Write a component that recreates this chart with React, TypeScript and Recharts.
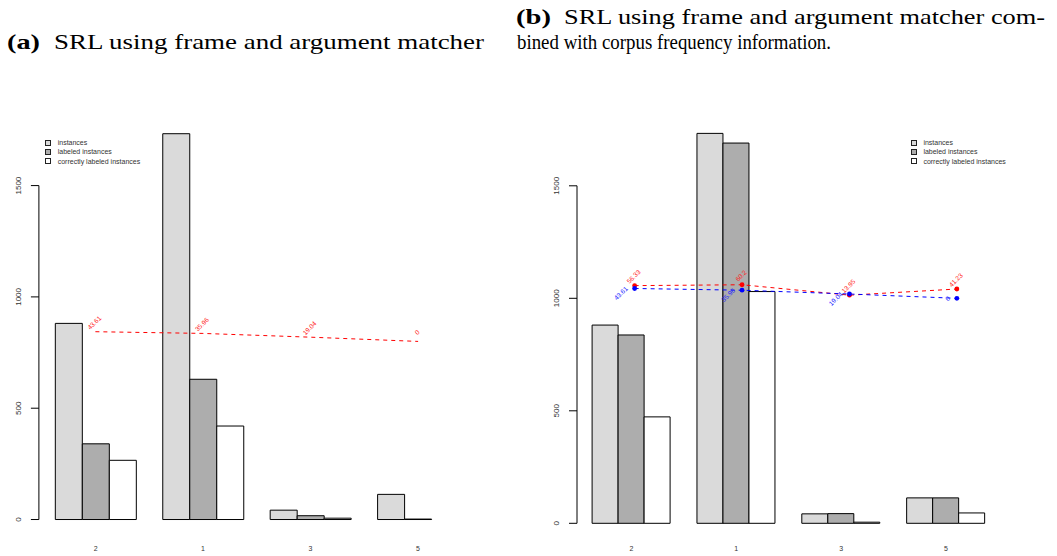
import {
  Bar,
  ComposedChart,
  Legend,
  Line,
  ReferenceLine,
  XAxis,
  YAxis
} from "recharts";

const categories = ["2", "1", "3", "5"];
const seriesNames = ["instances", "labeled instances", "correctly labeled instances"];
const instances = [881, 1733, 42, 113];
const yTicks = [0, 500, 1000, 1500];

// (a) frame and argument matcher
const labeledA = [340, 630, 17, 2];
const correctA = [266, 420, 6, 0];
const accA = [843.61, 835.96, 819.04, 800];
const accLabelsA = ["43.61", "35.96", "19.04", "0"];
const pointXA = [2.5, 6.5, 10.5, 14.5];

// (b) combined with corpus frequency information
const labeledB = [837, 1690, 43, 113];
const correctB = [473, 1030, 5, 46];
const redB = [1056.33, 1060.2, 1013.95, 1041.23];
const redLabelsB = ["56.33", "60.2", "13.95", "41.23"];
const blueB = [1043.61, 1035.96, 1019.04, 1000];
const blueLabelsB = ["43.61", "35.96", "19.04", "0"];
const pointXB = [2.6, 6.7, 10.8, 14.9];

const SANS = "'Liberation Sans', Arial, Helvetica, sans-serif";
const SERIF = "'Liberation Serif', 'Times New Roman', serif";

const rowsA = categories.map((cat, i) => ({
  cat,
  instances: instances[i],
  labeled: labeledA[i],
  correct: correctA[i],
  px: pointXA[i],
  red: accA[i]
}));

const rowsB = categories.map((cat, i) => ({
  cat,
  instances: instances[i],
  labeled: labeledB[i],
  correct: correctB[i],
  px: pointXB[i],
  red: redB[i],
  blue: blueB[i]
}));

function YTick(props: any) {
  const { x, y, payload } = props;
  const bx = x - 8;
  return (
    <text
      x={bx}
      y={y}
      transform={`rotate(-90 ${bx} ${y})`}
      textAnchor="middle"
      fontSize={8}
      fill="#333"
      fontFamily={SANS}
    >
      {payload.value}
    </text>
  );
}

function makeXTick(dy: number) {
  return (props: any) => {
    const { x, y, payload } = props;
    return (
      <text x={x} y={y + dy} textAnchor="middle" fontSize={7} fill="#333" fontFamily={SANS}>
        {payload.value}
      </text>
    );
  };
}

function BarLegend(props: any) {
  const items = (props.payload || [])
    .filter((p: any) => p.type !== "none")
    .sort((a: any, b: any) => seriesNames.indexOf(a.value) - seriesNames.indexOf(b.value));
  return (
    <div style={{ fontFamily: SANS, fontSize: 7, color: "#333" }}>
      {items.map((p: any) => (
        <div key={p.value} style={{ display: "flex", alignItems: "center", height: 9.3, whiteSpace: "nowrap" }}>
          <span
            style={{
              display: "inline-block",
              boxSizing: "border-box",
              width: 6,
              height: 6,
              border: "1px solid #222",
              background: p.payload?.fill ?? p.color,
              marginRight: 6.7
            }}
          />
          <span>{p.value}</span>
        </div>
      ))}
    </div>
  );
}

function makeLabel(texts: string[], color: string, side: "above" | "left") {
  return (props: any) => {
    const { x, y, index } = props;
    const cx = side === "above" ? x - 1 : x - 8;
    const cy = side === "above" ? y - 9 : y - 1;
    return (
      <text
        key={`${side}-${index}`}
        x={cx}
        y={cy}
        dy="0.35em"
        textAnchor={side === "above" ? "middle" : "end"}
        transform={`rotate(-45 ${cx} ${cy})`}
        fontSize={6.5}
        fill={color}
        fontFamily={SANS}
      >
        {texts[index]}
      </text>
    );
  };
}

function makeDot(color: string) {
  return (props: any) => <circle key={props.index} cx={props.cx} cy={props.cy} r={2.4} fill={color} />;
}

const barProps = { xAxisId: "cat", stroke: "#000", strokeWidth: 1, isAnimationActive: false };

function Caption({ x, y, width, bold, children }: any) {
  return (
    <text
      x={x}
      y={y}
      textLength={width}
      lengthAdjust="spacingAndGlyphs"
      fontFamily={SERIF}
      fontSize={21}
      fontWeight={bold ? "bold" : "normal"}
      fill="#000"
    >
      {children}
    </text>
  );
}

export default function App() {
  return (
    <div style={{ position: "absolute", left: 0, top: 0, width: 1057, height: 556, background: "#fff" }}>
      <svg width={1057} height={60} style={{ position: "absolute", left: 0, top: 0 }}>
        <Caption x={7} y={48.5} width={33} bold>(a)</Caption>
        <Caption x={54} y={48.5} width={430}>SRL using frame and argument matcher</Caption>
        <Caption x={516} y={24} width={35} bold>(b)</Caption>
        <Caption x={564} y={24} width={481}>SRL using frame and argument matcher com-</Caption>
        <Caption x={517} y={48.5} width={314}>bined with corpus frequency information.</Caption>
      </svg>

      <div style={{ position: "absolute", left: 0, top: 100 }}>
        <ComposedChart
          width={520}
          height={456}
          data={rowsA}
          margin={{ top: 18.8, right: 45.4, bottom: 0, left: 0 }}
          barGap={0}
          barCategoryGap="12.5%"
        >
          <XAxis
            xAxisId="cat"
            dataKey="cat"
            height={20.9}
            axisLine={false}
            tickLine={false}
            tickSize={0}
            tickMargin={0}
            padding={{ left: 3, right: 3 }}
            tick={makeXTick(15.4)}
            interval={0}
          />
          <XAxis xAxisId="num" type="number" dataKey="px" domain={[0.4, 16.6]} allowDataOverflow hide />
          <YAxis
            domain={[-70, 1800]}
            ticks={yTicks}
            allowDataOverflow
            width={38.9}
            axisLine={false}
            tickLine={{ stroke: "#000" }}
            tickSize={8}
            tickMargin={2}
            tick={<YTick />}
            interval={0}
          />
          <ReferenceLine
            xAxisId="num"
            segment={[{ x: 0.4, y: 0 }, { x: 0.4, y: 1500 }]}
            stroke="#000"
            strokeWidth={1}
          />
          <Legend
            layout="vertical"
            align="center"
            verticalAlign="middle"
            content={<BarLegend />}
            wrapperStyle={{ left: 45, top: 38, width: 200 }}
          />
          <Bar {...barProps} dataKey="instances" name={seriesNames[0]} fill="#dadada" />
          <Bar {...barProps} dataKey="labeled" name={seriesNames[1]} fill="#adadad" />
          <Bar {...barProps} dataKey="correct" name={seriesNames[2]} fill="#ffffff" />
          <Line
            xAxisId="num"
            type="linear"
            dataKey="red"
            stroke="#ff0000"
            strokeWidth={1}
            strokeDasharray="4 4"
            dot={false}
            activeDot={false}
            legendType="none"
            label={makeLabel(accLabelsA, "#ff2020", "above")}
            isAnimationActive={false}
          />
        </ComposedChart>
      </div>

      <div style={{ position: "absolute", left: 520, top: 100 }}>
        <ComposedChart
          width={537}
          height={456}
          data={rowsB}
          margin={{ top: 18.3, right: 55.6, bottom: 0, left: 0 }}
          barGap={0}
          barCategoryGap="12.5%"
        >
          <XAxis
            xAxisId="cat"
            dataKey="cat"
            height={16.95}
            axisLine={false}
            tickLine={false}
            tickSize={0}
            tickMargin={0}
            padding={{ left: 2, right: 3 }}
            tick={makeXTick(11.5)}
            interval={0}
          />
          <XAxis xAxisId="num" type="number" dataKey="px" domain={[0.4, 16.6]} allowDataOverflow hide />
          <YAxis
            domain={[-70, 1800]}
            ticks={yTicks}
            allowDataOverflow
            width={57}
            axisLine={false}
            tickLine={{ stroke: "#000" }}
            tickSize={8}
            tickMargin={2}
            tick={<YTick />}
            interval={0}
          />
          <ReferenceLine
            xAxisId="num"
            segment={[{ x: 0.4, y: 0 }, { x: 0.4, y: 1500 }]}
            stroke="#000"
            strokeWidth={1}
          />
          <Legend
            layout="vertical"
            align="center"
            verticalAlign="middle"
            content={<BarLegend />}
            wrapperStyle={{ left: 390.7, top: 38, width: 140 }}
          />
          <Bar {...barProps} dataKey="instances" name={seriesNames[0]} fill="#dadada" />
          <Bar {...barProps} dataKey="labeled" name={seriesNames[1]} fill="#adadad" />
          <Bar {...barProps} dataKey="correct" name={seriesNames[2]} fill="#ffffff" />
          <Line
            xAxisId="num"
            type="linear"
            dataKey="red"
            stroke="#ff0000"
            strokeWidth={1}
            strokeDasharray="4 4"
            dot={makeDot("#ff0000")}
            activeDot={false}
            legendType="none"
            label={makeLabel(redLabelsB, "#ff2020", "above")}
            isAnimationActive={false}
          />
          <Line
            xAxisId="num"
            type="linear"
            dataKey="blue"
            stroke="#0000ff"
            strokeWidth={1}
            strokeDasharray="4 4"
            dot={makeDot("#0000ff")}
            activeDot={false}
            legendType="none"
            label={makeLabel(blueLabelsB, "#2020ff", "left")}
            isAnimationActive={false}
          />
        </ComposedChart>
      </div>
    </div>
  );
}
